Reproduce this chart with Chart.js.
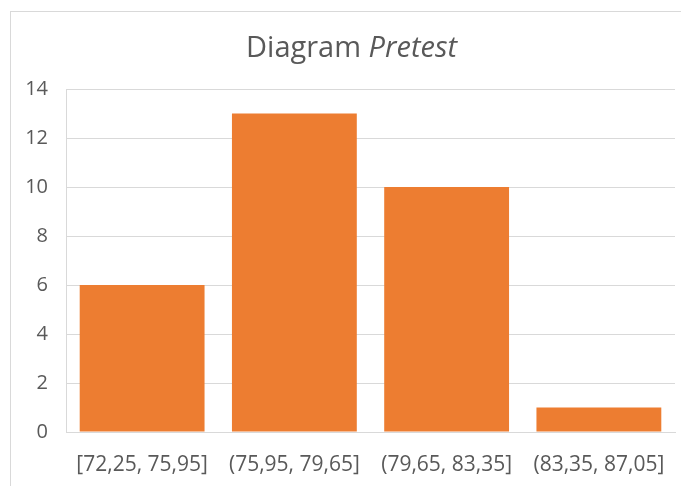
<!DOCTYPE html>
<html>
<head>
<meta charset="utf-8">
<script src="https://cdn.jsdelivr.net/npm/chart.js@4"></script>
<style>
  html, body { margin: 0; padding: 0; background: #fff; overflow: hidden; }
  #frame { position: absolute; left: 10px; top: 11px; width: 720px; height: 520px; border: 1px solid #d9d9d9; }
  #wrap { position: absolute; left: 0; top: 0; width: 681px; height: 486px; }
</style>
</head>
<body>
<div id="frame"></div>
<div id="wrap"><canvas id="pretestChart" width="681" height="486"></canvas></div>
<script>
// data
const categories = ['[72,25, 75,95]', '(75,95, 79,65]', '(79,65, 83,35]', '(83,35, 87,05]'];
const counts = [6, 13, 10, 1];
const titleParts = [['Diagram ', 'normal'], ['Pretest', 'italic']];

const FONT = "'Open Sans', sans-serif";
const TEXT = '#595959';

// title with an italic second word, chart.js title can't mix styles
const mixedTitle = {
  id: 'mixedTitle',
  afterDraw(chart) {
    const ctx = chart.ctx;
    ctx.save();
    ctx.fillStyle = TEXT;
    ctx.textBaseline = 'alphabetic';
    let total = 0;
    const widths = titleParts.map(([txt, style]) => {
      ctx.font = style + ' 29px ' + FONT;
      const w = ctx.measureText(txt).width;
      total += w;
      return w;
    });
    let x = (chart.width - total) / 2 + 11;
    titleParts.forEach(([txt, style], i) => {
      ctx.font = style + ' 29px ' + FONT;
      ctx.fillText(txt, x, 57);
      x += widths[i];
    });
    ctx.restore();
  }
};

const canvas = document.getElementById('pretestChart');
new Chart(canvas.getContext('2d'), {
  type: 'bar',
  data: {
    labels: categories,
    datasets: [{
      data: counts,
      backgroundColor: '#ED7D31',
      barPercentage: 0.82,
      categoryPercentage: 1.0
    }]
  },
  options: {
    responsive: false,
    animation: false,
    layout: { padding: { top: 89, right: 6, left: 0, bottom: 0 } },
    plugins: {
      legend: { display: false },
      title: { display: false },
      tooltip: { enabled: false }
    },
    scales: {
      x: {
        grid: { display: false, drawTicks: false },
        border: { display: true, color: '#d9d9d9' },
        ticks: { color: TEXT, font: { family: FONT, size: 21 }, padding: 20, maxRotation: 0 },
        afterFit(scale) {
          scale.height = 54;
          scale.paddingLeft = 0;
          scale.paddingRight = 0;
        }
      },
      y: {
        min: 0,
        max: 14,
        ticks: { stepSize: 2, color: TEXT, font: { family: FONT, size: 20 }, padding: 18 },
        grid: { color: '#d9d9d9', drawTicks: false },
        border: { display: true, color: '#d9d9d9' },
        afterFit(scale) { scale.width = 66; }
      }
    }
  },
  plugins: [mixedTitle]
});
</script>
</body>
</html>
